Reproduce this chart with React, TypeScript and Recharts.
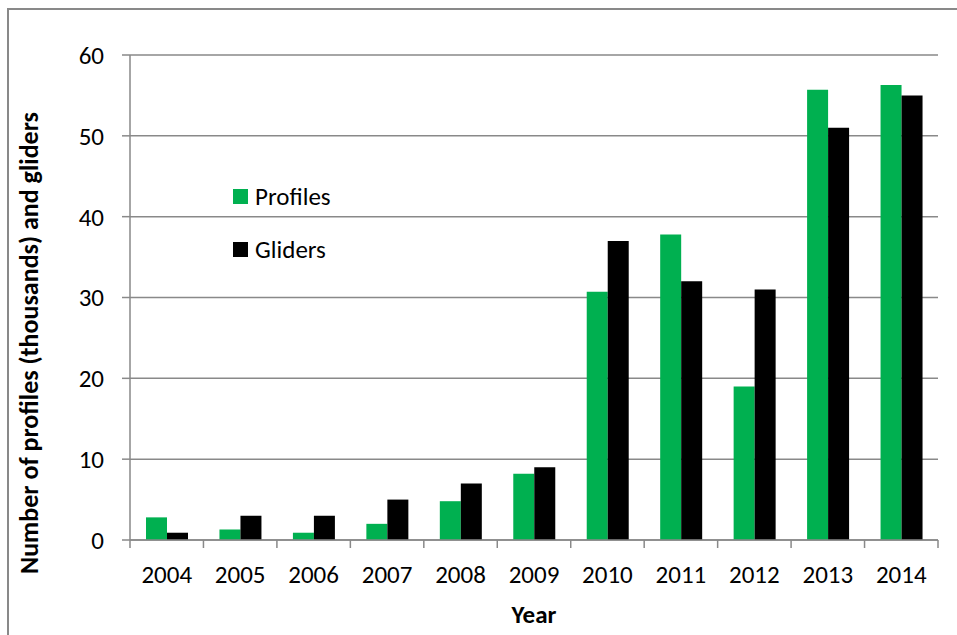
import React from 'react'
import { BarChart, Bar, XAxis, YAxis, CartesianGrid, Label } from 'recharts'

const years = ['2004', '2005', '2006', '2007', '2008', '2009', '2010', '2011', '2012', '2013', '2014']
const profiles = [2.8, 1.3, 0.9, 2.0, 4.8, 8.2, 30.7, 37.8, 19.0, 55.7, 56.3]
const gliders = [0.9, 3, 3, 5, 7, 9, 37, 32, 31, 51, 55]
const yTicks = [0, 10, 20, 30, 40, 50, 60]

const data = years.map((year, i) => ({ year, Profiles: profiles[i], Gliders: gliders[i] }))

const W = 957
const H = 635
const margin = { top: 55, right: 19, left: 0, bottom: 0 }
const yAxisWidth = 130
const xAxisHeight = 95
const halfBand = (W - margin.right - yAxisWidth) / years.length / 2

const FONT = "Carlito, Calibri, 'Open Sans', sans-serif"
const GREEN = '#00b050'
const GREY = '#898989'

function YearTick(props: any) {
  const { x, y, payload, index } = props
  const last = index === years.length - 1
  return (
    <g>
      <line x1={x - halfBand} x2={x - halfBand} y1={y} y2={y + 8} stroke={GREY} strokeWidth={1.5} />
      {last && <line x1={x + halfBand} x2={x + halfBand} y1={y} y2={y + 8} stroke={GREY} strokeWidth={1.5} />}
      <text x={x} y={y + 43} textAnchor="middle" fontSize={25} fontFamily={FONT} fill="#000">
        {payload.value}
      </text>
    </g>
  )
}

function LegendBox() {
  const items = [
    { name: 'Profiles', color: GREEN },
    { name: 'Gliders', color: '#000' },
  ]
  return (
    <div style={{ position: 'absolute', left: 233, top: 170, fontFamily: FONT, fontSize: 25 }}>
      {items.map((it) => (
        <div key={it.name} style={{ display: 'flex', alignItems: 'center', height: 53 }}>
          <span style={{ width: 15, height: 15, background: it.color, marginRight: 7, display: 'inline-block' }} />
          <span style={{ lineHeight: '25px' }}>{it.name}</span>
        </div>
      ))}
    </div>
  )
}

export default function App() {
  return (
    <div style={{ position: 'absolute', left: 0, top: 0, width: W, height: H, overflow: 'hidden', background: '#fff' }}>
      <div
        style={{
          position: 'absolute',
          left: 7,
          top: 8,
          width: W,
          height: H,
          borderLeft: `2px solid ${GREY}`,
          borderTop: `2px solid ${GREY}`,
        }}
      />
      <div style={{ position: 'absolute', left: 0, top: 0 }}>
        <BarChart width={W} height={H} data={data} margin={margin} barGap={0} barSize={21}>
          <CartesianGrid horizontal vertical={false} stroke={GREY} strokeWidth={1.5} />
          <XAxis
            dataKey="year"
            tick={<YearTick />}
            tickLine={false}
            tickSize={0}
            tickMargin={0}
            axisLine={{ stroke: GREY, strokeWidth: 1.5 }}
            height={xAxisHeight}
            interval={0}
          >
            <Label
              content={() => (
                <text x={534} y={623} textAnchor="middle" fontSize={25} fontWeight="bold" fontFamily={FONT} fill="#000">
                  Year
                </text>
              )}
            />
          </XAxis>
          <YAxis
            domain={[0, 60]}
            ticks={yTicks}
            width={yAxisWidth}
            tickSize={8}
            tickMargin={18}
            tick={{ fontSize: 25, fontFamily: FONT, fill: '#000' }}
            tickLine={{ stroke: GREY, strokeWidth: 1.5 }}
            axisLine={{ stroke: GREY, strokeWidth: 1.5 }}
          >
            <Label
              content={() => (
                <text
                  x={29}
                  y={343}
                  transform="rotate(-90 29 343)"
                  textAnchor="middle"
                  dominantBaseline="central"
                  fontSize={26}
                  fontWeight="bold"
                  fontFamily={FONT}
                  fill="#000"
                >
                  Number of profiles (thousands) and gliders
                </text>
              )}
            />
          </YAxis>
          <Bar dataKey="Profiles" fill={GREEN} isAnimationActive={false} />
          <Bar dataKey="Gliders" fill="#000" isAnimationActive={false} />
        </BarChart>
      </div>
      <LegendBox />
    </div>
  )
}
